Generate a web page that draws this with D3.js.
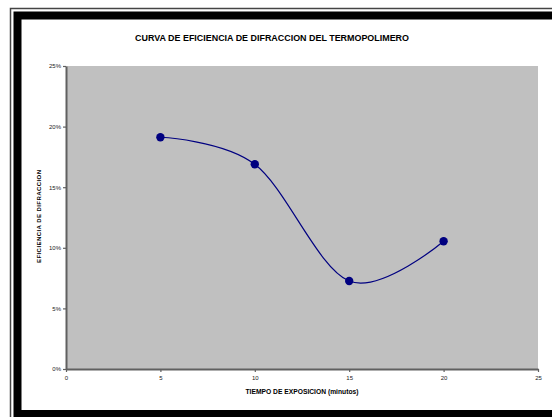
<!DOCTYPE html>
<html><head><meta charset="utf-8">
<script src="https://cdn.jsdelivr.net/npm/d3@7"></script>
<style>html,body{margin:0;padding:0;background:#fff;overflow:hidden}</style>
</head><body>
<svg id="c" width="552" height="417"></svg>
<script>
const tiempos = [5, 10, 15, 20];
const eficiencia = [0.1912, 0.1689, 0.0726, 0.1054];
const xTicks = [0, 5, 10, 15, 20, 25];
const yTicks = [0, 0.05, 0.10, 0.15, 0.20, 0.25];
const titulo = "CURVA DE EFICIENCIA DE DIFRACCION DEL TERMOPOLIMERO";
const xTitulo = "TIEMPO DE EXPOSICION (minutos)";
const yTitulo = "EFICIENCIA DE DIFRACCION";

const svg = d3.select("#c");
const font = "Arial, 'Liberation Sans', sans-serif";

// frame
svg.append("rect").attr("x",10.5).attr("y",8.5).attr("width",600).attr("height",500)
  .attr("fill","none").attr("stroke","#444").attr("stroke-width",1.5);
svg.append("rect").attr("x",17.5).attr("y",15.5).attr("width",600).attr("height",398.5)
  .attr("fill","#fff").attr("stroke","#000").attr("stroke-width",8);

const x = d3.scaleLinear().domain([0,25]).range([66,538]);
const y = d3.scaleLinear().domain([0,0.25]).range([369,66]);

svg.append("rect").attr("x",x(0)).attr("y",y(0.25)).attr("width",x(25)-x(0)).attr("height",y(0)-y(0.25))
  .attr("fill","#C0C0C0");

const gx = svg.append("g").attr("transform",`translate(0,${y(0)})`)
  .call(d3.axisBottom(x).tickValues(xTicks).tickSize(3).tickSizeOuter(0).tickPadding(4).tickFormat(d3.format("d")));
const gy = svg.append("g").attr("transform",`translate(${x(0)},0)`)
  .call(d3.axisLeft(y).tickValues(yTicks).tickSize(3).tickSizeOuter(0).tickPadding(2).tickFormat(d3.format(".0%")));
[gx,gy].forEach(g=>{
  g.select(".domain").attr("stroke","#606060").attr("stroke-width",2);
  g.selectAll(".tick line").attr("stroke","#606060").attr("stroke-width",1.2);
  g.selectAll("text").attr("font-family",font).attr("font-size",6).attr("fill","#222");
});

const line = d3.line().x((d,i)=>x(tiempos[i])).y(d=>y(d)).curve(d3.curveCatmullRom.alpha(0));
svg.append("path").datum(eficiencia).attr("d",line).attr("fill","none")
  .attr("stroke","#000080").attr("stroke-width",1.2);
svg.selectAll("circle.pt").data(eficiencia).enter().append("circle")
  .attr("cx",(d,i)=>x(tiempos[i])).attr("cy",d=>y(d)).attr("r",4.2).attr("fill","#000080");

svg.append("text").attr("x",272).attr("y",41).attr("text-anchor","middle")
  .attr("font-family",font).attr("font-weight","bold").attr("font-size",8.5)
  .attr("textLength",274).attr("lengthAdjust","spacingAndGlyphs").text(titulo);
svg.append("text").attr("x",302).attr("y",394).attr("text-anchor","middle")
  .attr("font-family",font).attr("font-weight","bold").attr("font-size",6.5)
  .attr("textLength",113).attr("lengthAdjust","spacingAndGlyphs").text(xTitulo);
svg.append("text").attr("transform","translate(41,216.5) rotate(-90)").attr("text-anchor","middle")
  .attr("font-family",font).attr("font-weight","bold").attr("font-size",6)
  .attr("textLength",93).attr("lengthAdjust","spacing").text(yTitulo);
</script>
</body></html>
